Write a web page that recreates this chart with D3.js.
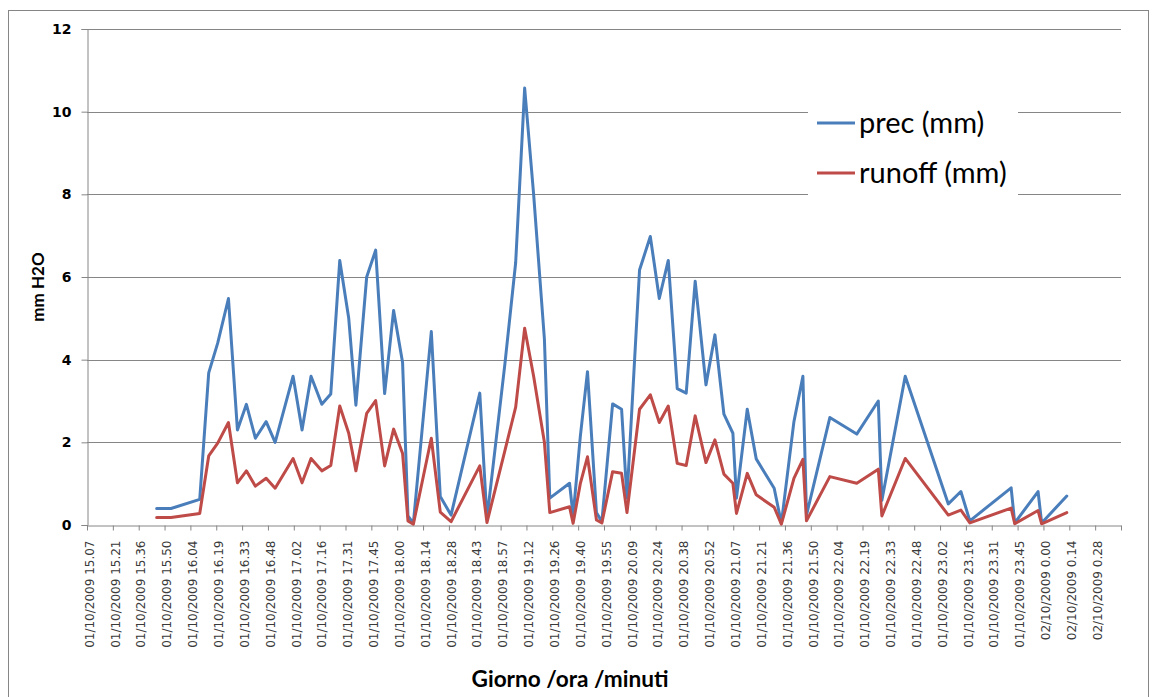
<!DOCTYPE html>
<html><head><meta charset="utf-8">
<script src="https://cdn.jsdelivr.net/npm/d3@7"></script>
<style>body{margin:0;background:#fff} svg{display:block}</style>
</head><body>
<svg id="chart" width="1157" height="697"></svg>
<script>
// ---- data ----
const times = ["15:46","15:54","16:10","16:15","16:20","16:26","16:31","16:36","16:41","16:47",
  "16:52","17:02","17:07","17:12","17:18","17:23","17:28","17:33","17:37","17:43",
  "17:48","17:53","17:58","18:03","18:06","18:09","18:19","18:24","18:30","18:46",
  "18:50","19:00","19:06","19:11","19:16","19:22","19:25","19:36","19:38","19:42",
  "19:46","19:51","19:54","20:00","20:05","20:08","20:15","20:21","20:26","20:31",
  "20:36","20:41","20:46","20:52","20:57","21:02","21:07","21:09","21:15","21:20",
  "21:30","21:34","21:41","21:46","21:48","22:01","22:16","22:28","22:30","22:43",
  "23:07","23:14","23:19","23:42","23:44","23:57","23:59","00:13"];
const prec = [0.40,0.40,0.62,3.68,4.40,5.48,2.30,2.92,2.10,2.50,
  2.00,3.60,2.30,3.60,2.92,3.17,6.40,5.00,2.90,6.00,
  6.65,3.18,5.19,3.93,0.22,0.04,4.68,0.69,0.24,3.19,
  0.15,3.90,6.35,10.57,8.00,4.50,0.65,1.01,0.22,2.14,
  3.71,0.30,0.08,2.93,2.80,0.65,6.17,6.98,5.48,6.40,
  3.30,3.19,5.90,3.39,4.60,2.68,2.22,0.65,2.80,1.60,
  0.89,0.04,2.50,3.60,0.24,2.60,2.20,3.00,0.60,3.60,
  0.51,0.81,0.10,0.90,0.05,0.81,0.05,0.70];
const runoff = [0.18,0.18,0.28,1.67,1.98,2.48,1.02,1.31,0.94,1.13,
  0.89,1.61,1.02,1.61,1.31,1.44,2.88,2.22,1.31,2.70,
  3.01,1.43,2.32,1.73,0.10,0.02,2.10,0.31,0.08,1.43,
  0.06,1.80,2.85,4.76,3.60,2.00,0.30,0.44,0.04,1.00,
  1.65,0.12,0.05,1.29,1.25,0.30,2.80,3.15,2.48,2.88,
  1.49,1.44,2.64,1.51,2.06,1.23,1.01,0.28,1.25,0.73,
  0.43,0.02,1.13,1.59,0.10,1.17,1.01,1.35,0.22,1.61,
  0.24,0.36,0.05,0.41,0.03,0.35,0.03,0.30];
const seriesNames = ["prec (mm)", "runoff (mm)"];
const seriesColors = ["#4a7ebb", "#be4b48"];
const yTicks = [0, 2, 4, 6, 8, 10, 12];
const xTickLabels = ["01/10/2009 15.07","01/10/2009 15.21","01/10/2009 15.36","01/10/2009 15.50",
  "01/10/2009 16.04","01/10/2009 16.19","01/10/2009 16.33","01/10/2009 16.48","01/10/2009 17.02",
  "01/10/2009 17.16","01/10/2009 17.31","01/10/2009 17.45","01/10/2009 18.00","01/10/2009 18.14",
  "01/10/2009 18.28","01/10/2009 18.43","01/10/2009 18.57","01/10/2009 19.12","01/10/2009 19.26",
  "01/10/2009 19.40","01/10/2009 19.55","01/10/2009 20.09","01/10/2009 20.24","01/10/2009 20.38",
  "01/10/2009 20.52","01/10/2009 21.07","01/10/2009 21.21","01/10/2009 21.36","01/10/2009 21.50",
  "01/10/2009 22.04","01/10/2009 22.19","01/10/2009 22.33","01/10/2009 22.48","01/10/2009 23.02",
  "01/10/2009 23.16","01/10/2009 23.31","01/10/2009 23.45","02/10/2009 0.00","02/10/2009 0.14",
  "02/10/2009 0.28"];
const xTitle = "Giorno /ora /minuti";
const yTitle = "mm H2O";

// ---- helpers ----
function parseT(s) {
  const [h, m] = s.split(":").map(Number);
  return new Date(2009, 9, h < 12 ? 2 : 1, h, m);
}
const dayMs = 86400000;
const xStart = new Date(2009, 9, 1, 15, 7, 12);   // 0.63 day
const tickStep = 0.01 * dayMs;                     // 14.4 minutes
const xEnd = new Date(+xStart + 40 * tickStep);
const tickDates = d3.range(41).map(i => new Date(+xStart + i * tickStep));

const svg = d3.select("#chart");
const L = 87, R = 1121, T = 29, B = 525;
const x = d3.scaleTime().domain([xStart, xEnd]).range([L, R]);
const y = d3.scaleLinear().domain([0, 12]).range([B, T]);
const grey = "#868686";

// outer border
svg.append("rect").attr("x", 8.5).attr("y", 10.5).attr("width", 1140).attr("height", 690)
  .attr("fill", "#fff").attr("stroke", grey).attr("stroke-width", 1);

// gridlines
svg.append("g").selectAll("line").data(yTicks.filter(v => v > 0)).join("line")
  .attr("x1", L).attr("x2", R).attr("y1", d => Math.round(y(d)) + 0.5).attr("y2", d => Math.round(y(d)) + 0.5)
  .attr("stroke", grey).attr("stroke-width", 1);

// y axis
const yAxis = svg.append("g").attr("transform", `translate(${L + 0.5},0)`)
  .call(d3.axisLeft(y).tickValues(yTicks).tickSize(6).tickPadding(10).tickFormat(d3.format("d")));
yAxis.selectAll("path,line").attr("stroke", grey);
yAxis.selectAll("text").attr("font-family", "DejaVu Sans").attr("font-weight", "bold")
  .attr("font-size", 14).attr("fill", "#000");

// x axis
const xAxis = svg.append("g").attr("transform", `translate(0,${B + 0.5})`)
  .call(d3.axisBottom(x).tickValues(tickDates).tickSize(5).tickSizeOuter(0)
    .tickFormat((d, i) => xTickLabels[i] || ""));
xAxis.selectAll("path,line").attr("stroke", grey);
xAxis.selectAll("text")
  .attr("font-family", "DejaVu Sans").attr("font-size", 12).attr("fill", "#3a3a3a")
  .attr("text-anchor", "end").attr("dy", "0.35em")
  .attr("transform", "rotate(-90)").attr("x", -15).attr("y", 2);

// lines
const series = [prec, runoff].map((vals, k) => ({
  name: seriesNames[k], color: seriesColors[k],
  pts: vals.map((v, i) => ({ t: parseT(times[i]), v }))
}));
const line = d3.line().x(d => x(d.t)).y(d => y(d.v));
svg.append("g").selectAll("path").data(series).join("path")
  .attr("d", d => line(d.pts)).attr("fill", "none")
  .attr("stroke", d => d.color).attr("stroke-width", 3)
  .attr("stroke-linejoin", "round").attr("stroke-linecap", "round");

// legend
const lg = svg.append("g");
lg.append("rect").attr("x", 808).attr("y", 98).attr("width", 210).attr("height", 108).attr("fill", "#fff");
const items = lg.selectAll("g").data(series).join("g")
  .attr("transform", (d, i) => `translate(0,${123 + i * 50})`);
items.append("line").attr("x1", 817).attr("x2", 855).attr("y1", 0).attr("y2", 0)
  .attr("stroke", d => d.color).attr("stroke-width", 3);
items.append("text").attr("x", 859).attr("y", 0).attr("dy", "0.33em")
  .attr("font-family", "Lato").attr("font-size", 29).attr("fill", "#000")
  .text(d => d.name);

// titles
svg.append("text").attr("x", 570).attr("y", 687).attr("text-anchor", "middle")
  .attr("font-family", "Lato").attr("font-weight", "bold").attr("font-size", 22.6)
  .attr("fill", "#000").text(xTitle);
svg.append("text").attr("transform", "translate(44,287) rotate(-90)").attr("text-anchor", "middle")
  .attr("font-family", "Lato").attr("font-weight", "bold").attr("font-size", 17)
  .attr("fill", "#000").text(yTitle);
</script>
</body></html>
